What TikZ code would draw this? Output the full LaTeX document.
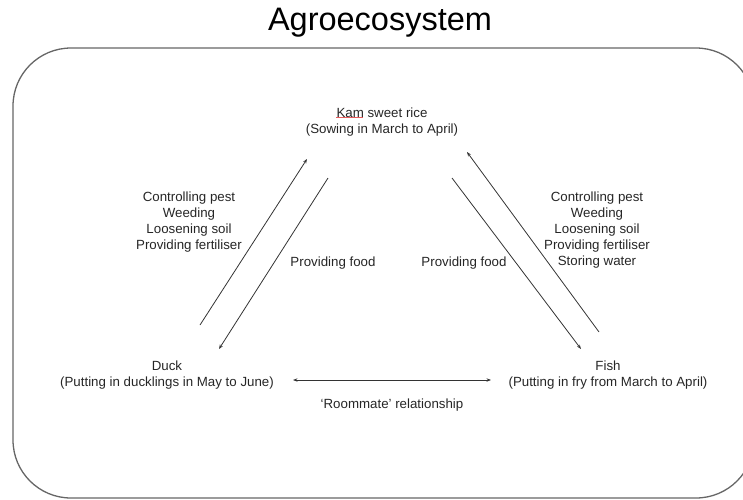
\documentclass[tikz,border=0pt]{standalone}
\usepackage{fontspec}
\setmainfont{Liberation Sans}
\usetikzlibrary{arrows.meta}
\definecolor{squig}{RGB}{230,90,90}
\begin{document}
\begin{tikzpicture}[x=1pt,y=-1pt,
  lbl/.style={align=center,inner sep=0pt,text=black!85,font=\fontsize{13.3}{16}\selectfont},
  conn/.style={draw=black!80,line width=0.8pt,-{Stealth[length=4.5pt,width=3.4pt]}},
  bothconn/.style={draw=black!80,line width=0.8pt,{Stealth[length=4.5pt,width=3.4pt]}-{Stealth[length=4.5pt,width=3.4pt]}}]
\useasboundingbox (0,0) rectangle (743,499);
\begin{scope}
\clip (0,0) rectangle (743,499);
\draw[black!60,line width=1.3pt,rounded corners=58pt] (13,48) rectangle (754,498);
\end{scope}
\node[inner sep=0pt,font=\fontsize{32.5}{36}\selectfont] (title) at (380,23) {Agroecosystem};

\node[lbl] (rice) at (382,122) {Kam sweet rice\\(Sowing in March to April)};
\draw[squig,line width=0.6pt] ([yshift=-9.5pt]rice.north west -| 336,0) -- ++(27,0);
\node[lbl] (duck) at (167,375) {Duck\\(Putting in ducklings in May to June)};
\node[lbl] (fish) at (608,375) {Fish\\(Putting in fry from March to April)};

\node[lbl] (ltext) at (189,222) {Controlling pest\\Weeding\\Loosening soil\\Providing fertiliser};
\node[lbl] (rtext) at (597,230) {Controlling pest\\Weeding\\Loosening soil\\Providing fertiliser\\Storing water};
\node[lbl] (lfood) at (333,263) {Providing food};
\node[lbl] (rfood) at (464,263) {Providing food};
\node[lbl] (room) at (392,405) {`Roommate' relationship};

\coordinate (a1s) at (200,325); \coordinate (a1e) at (307,159);
\coordinate (a2s) at (328,178); \coordinate (a2e) at (219,349);
\coordinate (a3s) at (452,178); \coordinate (a3e) at (581,349);
\coordinate (a4s) at (599,332); \coordinate (a4e) at (467,152);
\coordinate (hs) at (293,380); \coordinate (he) at (491,380);

\draw[conn] (a1s) -- (a1e);
\draw[conn] (a2s) -- (a2e);
\draw[conn] (a3s) -- (a3e);
\draw[conn] (a4s) -- (a4e);
\draw[bothconn] (hs) -- (he);
\end{tikzpicture}
\end{document}
